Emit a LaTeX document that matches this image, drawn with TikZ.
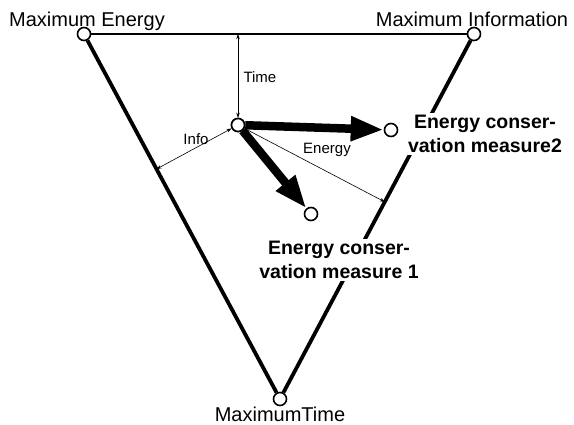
\documentclass[tikz,border=0pt]{standalone}
\usepackage{fontspec}
\setmainfont{Liberation Sans}
\usetikzlibrary{arrows.meta, calc}

\begin{document}
\begin{tikzpicture}[
    x=1pt, y=-1pt,
    every node/.style={font=\fontsize{15}{17}\selectfont},
    pt/.style={circle, draw=black, fill=white, line width=1.6pt,
        inner sep=0pt, minimum size=13pt},
    edge/.style={draw=black, line width=3.8pt},
    topedge/.style={draw=black, line width=2.4pt},
    corner/.style={font=\fontsize{20}{22}\selectfont, anchor=base},
    measure/.style={font=\fontsize{19.5}{24}\bfseries\selectfont,
        align=center, fill=white, inner sep=2pt},
    dim/.style={{Stealth[length=5pt,width=3.5pt]}-{Stealth[length=5pt,width=3.5pt]},
        line width=0.6pt},
    dimone/.style={-{Stealth[length=5pt,width=3.5pt]}, line width=0.6pt},
    bigarrow/.style={-{Triangle[length=33pt,width=23pt]}, line width=8.5pt},
]
\useasboundingbox (0,0) rectangle (574,425);

% ====== TRIANGLE ======
\node[pt] (ME) at (84,34)   {};
\node[pt] (MI) at (474,34)  {};
\node[pt] (MT) at (280,399) {};

\draw[topedge] (ME) -- (MI);
\draw[edge] (ME) -- (MT);
\draw[edge] (MI) -- (MT);

\node[corner] (ME-lbl) at (87,27)  {Maximum Energy};
\node[corner] (MI-lbl) at (472,27) {Maximum Information};
\node[corner] (MT-lbl) at (280,421) {MaximumTime};

% ====== MEASURES ======
\node[measure] (M2-lbl) at (485,134) {Energy conser-\\vation measure2};
\node[measure] (M1-lbl) at (339,260) {Energy conser-\\vation measure 1};

\node[pt] (C)  at (238,125) {};
\node[pt] (M2) at (391,130) {};
\node[pt] (M1) at (311,214) {};

\coordinate (T-foot) at (238,34);
\coordinate (I-foot) at ($(ME)!0.37!(MT)$);
\coordinate (E-foot) at ($(MI)!0.46!(MT)$);

\draw[dim] (T-foot) -- (C);
\draw[dim] (I-foot) -- (C);
\draw[dimone] (C) -- (E-foot);

\draw[bigarrow] (C) -- (M2);
\draw[bigarrow] (C) -- (M1);
\node[pt] at (C) {};

\node[anchor=west] (T-lbl) at (240,77)  {Time};
\node (I-lbl) at (196,139) {Info};
\node (E-lbl) at (327,150) {Energy};
\end{tikzpicture}
\end{document}
